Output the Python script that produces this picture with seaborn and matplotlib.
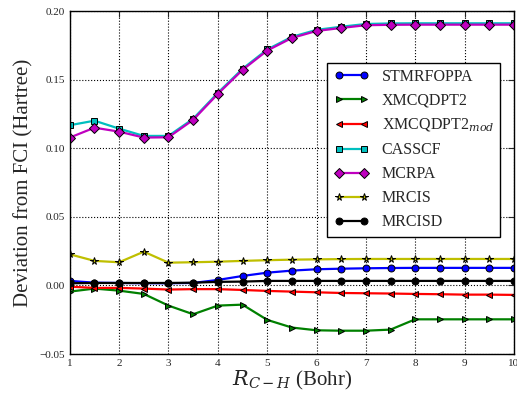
import numpy as np
import pandas as pd
import matplotlib
matplotlib.use("Agg")
import matplotlib.pyplot as plt
import seaborn as sns

r = [1.0, 1.5, 2.0, 2.5, 3.0, 3.5, 4.0, 4.5, 5.0, 5.5, 6.0, 6.5, 7.0, 7.5, 8.0, 8.5, 9.0, 9.5, 10.0]

stmrfoppa = [0.0033, 0.0020, 0.0018, 0.0016, 0.0016, 0.0018, 0.0040, 0.0069, 0.0093, 0.0108, 0.0118,
             0.0122, 0.0125, 0.0127, 0.0128, 0.0128, 0.0128, 0.0128, 0.0128]
xmcqdpt2 = [-0.0045, -0.0023, -0.0038, -0.0062, -0.0147, -0.0210, -0.0147, -0.0140, -0.0251, -0.0307,
            -0.0327, -0.0330, -0.0330, -0.0322, -0.0247, -0.0247, -0.0247, -0.0247, -0.0247]
xmcqdpt2_mod = [-0.0009, -0.0018, -0.0018, -0.0023, -0.0030, -0.0027, -0.0027, -0.0033, -0.0040, -0.0045,
                -0.0050, -0.0055, -0.0057, -0.0059, -0.0062, -0.0064, -0.0067, -0.0067, -0.0069]
casscf = [0.1168, 0.1201, 0.1143, 0.1090, 0.1090, 0.1215, 0.1404, 0.1579, 0.1720, 0.1812, 0.1863,
          0.1886, 0.1906, 0.1910, 0.1911, 0.1911, 0.1911, 0.1911, 0.1911]
mcrpa = [0.1078, 0.1150, 0.1121, 0.1078, 0.1080, 0.1207, 0.1396, 0.1571, 0.1712, 0.1804, 0.1855,
         0.1877, 0.1897, 0.1900, 0.1901, 0.1901, 0.1901, 0.1901, 0.1901]
mrcis = [0.0227, 0.0179, 0.0169, 0.0246, 0.0166, 0.0169, 0.0173, 0.0179, 0.0184, 0.0188, 0.0190,
         0.0192, 0.0193, 0.0193, 0.0193, 0.0193, 0.0193, 0.0193, 0.0193]
mrcisd = [0.0016, 0.0018, 0.0018, 0.0018, 0.0018, 0.0020, 0.0026, 0.0028, 0.0033, 0.0033, 0.0033,
          0.0033, 0.0033, 0.0033, 0.0033, 0.0033, 0.0033, 0.0033, 0.0033]

labels = ["STMRFOPPA", "XMCQDPT2", r"XMCQDPT2$_{mod}$", "CASSCF", "MCRPA", "MRCIS", "MRCISD"]
series = [stmrfoppa, xmcqdpt2, xmcqdpt2_mod, casscf, mcrpa, mrcis, mrcisd]
colors = ["#0000ff", "#008000", "#ff0000", "#00bfbf", "#bf00bf", "#bfbf00", "#000000"]
markers = ["o", ">", "<", "s", "D", "*", "o"]
msizes = [5, 5, 5, 5, 5, 5.5, 5]

sns.set_style("white")
plt.rcParams["font.family"] = ["Liberation Serif", "DejaVu Serif"]
plt.rcParams["mathtext.fontset"] = "dejavuserif"

fig = plt.figure(figsize=(5.17, 3.96), dpi=100)
ax = fig.add_axes([0.135, 0.106, 0.859, 0.866])

for lab, vals, c, m, ms in zip(labels, series, colors, markers, msizes):
    df = pd.DataFrame({"r": r, "v": vals})
    sns.lineplot(data=df, x="r", y="v", ax=ax, color=c, marker=m, markersize=ms,
                 markeredgecolor="black", markeredgewidth=0.7, linewidth=1.6, label=lab)

ax.set_xlim(1, 10)
ax.set_ylim(-0.05, 0.20)
ax.set_xticks(range(1, 11))
ax.set_yticks([-0.05, 0.0, 0.05, 0.10, 0.15, 0.20])
ax.set_yticklabels(["\u22120.05", "0.00", "0.05", "0.10", "0.15", "0.20"])
ax.tick_params(direction="in", labelsize=8, length=4, top=True, right=True)
ax.grid(True, linestyle=":", color="black", linewidth=0.8)
for s in ax.spines.values():
    s.set_color("black")
    s.set_linewidth(1.0)

ax.set_xlabel(r"$R_{C-H}$ (Bohr)", fontsize=15, labelpad=1)
ax.set_ylabel("Deviation from FCI (Hartree)", fontsize=15, labelpad=4)

leg = ax.legend(loc="upper left", bbox_to_anchor=(0.58, 0.85), borderaxespad=0,
                fontsize=11.5, numpoints=2, handlelength=2.2, labelspacing=0.5,
                frameon=True, fancybox=False, edgecolor="black", framealpha=1)
leg.get_frame().set_linewidth(1.0)

fig.savefig("out.png", dpi=100)
